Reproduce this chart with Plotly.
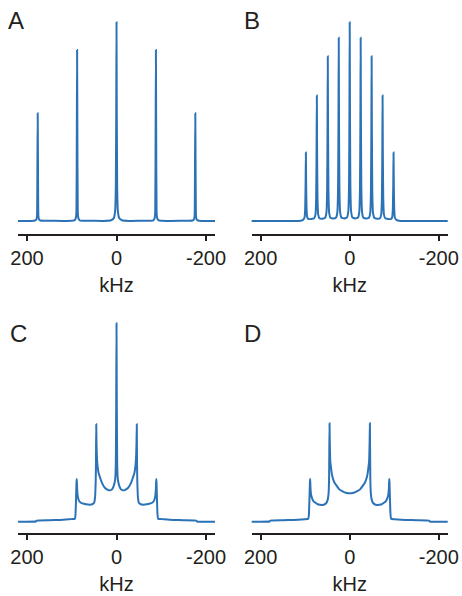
import plotly.graph_objects as go

# ---------------- data ----------------
# Panel A: five sharp lines at 0, ±88, ±176 kHz
A_khz = [222, 190, 182, 179, 177.5, 176.6, 176, 175.4, 174.5, 173, 170, 160, 120, 100, 94, 91,
         89.5, 88.6, 88, 87.4, 86.5, 85, 82, 70, 30, 12, 6, 3, 1.5, 0.6, 0,
         -0.6, -1.5, -3, -6, -12, -30, -70, -82, -85, -86.5, -87.4, -88, -88.6, -89.5,
         -91, -94, -100, -120, -160, -170, -173, -174.5, -175.4, -176, -176.6, -177.5,
         -179, -182, -190, -222]
A_int = [0.002, 0.003, 0.005, 0.010, 0.030, 0.300, 0.543, 0.300, 0.030, 0.010, 0.005, 0.004, 0.003, 0.004, 0.006, 0.016,
         0.050, 0.470, 0.861, 0.470, 0.050, 0.016, 0.006, 0.004, 0.003, 0.006, 0.017, 0.055, 0.180, 0.550, 1.000,
         0.550, 0.180, 0.055, 0.017, 0.006, 0.003, 0.004, 0.006, 0.016, 0.050, 0.470, 0.861, 0.470, 0.050,
         0.016, 0.006, 0.004, 0.003, 0.004, 0.005, 0.010, 0.030, 0.300, 0.543, 0.300, 0.030,
         0.010, 0.005, 0.003, 0.002]

# Panel B: nine lines spaced ~24.6 kHz
B_khz = [222, 160, 115, 108, 104.4, 101.4, 99.9, 99.0, 98.4, 97.8, 96.9, 95.4, 92.4, 86.1,
         79.8, 76.8, 75.3, 74.4, 73.8, 73.2, 72.3, 70.8, 67.8, 61.5,
         55.2, 52.2, 50.7, 49.8, 49.2, 48.6, 47.7, 46.2, 43.2, 36.9,
         30.6, 27.6, 26.1, 25.2, 24.6, 24.0, 23.1, 21.6, 18.6, 12.3,
         6.0, 3.0, 1.5, 0.6, 0.0, -0.6, -1.5, -3.0, -6.0,
         -12.3, -18.6, -21.6, -23.1, -24.0, -24.6, -25.2, -26.1, -27.6, -30.6,
         -36.9, -43.2, -46.2, -47.7, -48.6, -49.2, -49.8, -50.7, -52.2, -55.2,
         -61.5, -67.8, -70.8, -72.3, -73.2, -73.8, -74.4, -75.3, -76.8, -79.8,
         -86.1, -92.4, -95.4, -96.9, -97.8, -98.4, -99.0, -99.9, -101.4, -104.4, -108, -115, -160, -222]
B_int = [0.002, 0.002, 0.003, 0.005, 0.009, 0.020, 0.065, 0.190, 0.346, 0.190, 0.065, 0.022, 0.012, 0.013,
         0.016, 0.036, 0.118, 0.350, 0.633, 0.350, 0.118, 0.036, 0.016, 0.014,
         0.019, 0.046, 0.152, 0.457, 0.830, 0.457, 0.152, 0.046, 0.019, 0.015,
         0.020, 0.050, 0.168, 0.507, 0.922, 0.507, 0.168, 0.050, 0.020, 0.015,
         0.021, 0.054, 0.182, 0.550, 1.000, 0.550, 0.182, 0.054, 0.021,
         0.015, 0.020, 0.050, 0.168, 0.507, 0.922, 0.507, 0.168, 0.050, 0.020,
         0.015, 0.019, 0.046, 0.152, 0.457, 0.830, 0.457, 0.152, 0.046, 0.019,
         0.014, 0.016, 0.036, 0.118, 0.350, 0.633, 0.350, 0.118, 0.036, 0.016,
         0.013, 0.012, 0.022, 0.065, 0.190, 0.346, 0.190, 0.065, 0.020, 0.009, 0.005, 0.003, 0.002, 0.002]

# Panel C: powder pattern with central line
C_khz = [222, 180, 178.5, 150, 126, 100, 93, 91.5, 90.3, 89.3, 88.7, 88, 87, 85, 82, 76, 68, 60, 54, 50,
         48, 46.5, 45.8, 45.3, 44.7, 44, 42.5, 40, 36.6, 32, 25.5, 19, 14, 10, 7, 4, 2.5, 1.5, 0.7, 0,
         -0.7, -1.5, -2.5, -4, -7, -10, -14, -19, -25.5, -32, -36.6, -40, -42.5, -44, -44.7, -45.3,
         -45.8, -46.5, -48, -50, -54, -60, -68, -76, -82, -85, -87, -88, -88.7, -89.3, -90.3, -91.5,
         -93, -100, -126, -150, -178.5, -180, -222]
C_int = [0.000, 0.001, 0.005, 0.007, 0.009, 0.013, 0.015, 0.040, 0.120, 0.200, 0.215, 0.170, 0.135, 0.113, 0.100, 0.092, 0.088, 0.086, 0.088, 0.095,
         0.120, 0.200, 0.300, 0.491, 0.400, 0.340, 0.285, 0.245, 0.222, 0.193, 0.170, 0.160, 0.158, 0.163, 0.175, 0.200, 0.225, 0.300, 0.580, 1.000,
         0.580, 0.300, 0.225, 0.200, 0.175, 0.163, 0.158, 0.160, 0.170, 0.193, 0.222, 0.245, 0.285, 0.340, 0.400, 0.491,
         0.300, 0.200, 0.120, 0.095, 0.088, 0.086, 0.088, 0.092, 0.100, 0.113, 0.135, 0.170, 0.215, 0.200, 0.120, 0.040,
         0.015, 0.013, 0.009, 0.007, 0.005, 0.001, 0.000]

# Panel D: powder pattern without central line
D_khz = [222, 180, 178.5, 150, 126, 100, 93, 91.5, 90.3, 89.3, 88.7, 88, 86.6, 81.5, 72, 61, 53, 49.5,
         47.5, 46.3, 45.3, 44.7, 43.5, 41.5, 39.7, 34.6, 23.4, 15, 8.5, 0,
         -8.5, -15, -23.4, -34.6, -39.7, -41.5, -43.5, -44.7, -45.3, -46.3, -47.5,
         -49.5, -53, -61, -72, -81.5, -86.6, -88, -88.7, -89.3, -90.3, -91.5, -93, -100, -126, -150, -178.5, -180, -222]
D_int = [0.000, 0.001, 0.005, 0.007, 0.009, 0.012, 0.015, 0.040, 0.120, 0.200, 0.215, 0.170, 0.135, 0.104, 0.088, 0.084, 0.093, 0.110,
         0.140, 0.220, 0.496, 0.400, 0.302, 0.265, 0.235, 0.199, 0.163, 0.152, 0.146, 0.143,
         0.146, 0.152, 0.163, 0.199, 0.235, 0.265, 0.302, 0.400, 0.496, 0.220, 0.140,
         0.110, 0.093, 0.084, 0.088, 0.104, 0.135, 0.170, 0.215, 0.200, 0.120, 0.040, 0.015, 0.012, 0.009, 0.007, 0.005, 0.001, 0.000]

panel_labels = ["A", "B", "C", "D"]
tick_vals = [200, 0, -200]
tick_text = ["200", "0", "-200"]
x_title = "kHz"

# ---------------- figure ----------------
W, H = 462, 596
LINE = "#2b72b6"
TXT = "#231f20"
FONT = "Liberation Sans, Arial, sans-serif"

fig = go.Figure()
series = [(A_khz, A_int), (B_khz, B_int), (C_khz, C_int), (D_khz, D_int)]
for i, (xs, ys) in enumerate(series):
    fig.add_trace(go.Scatter(x=xs, y=ys, mode="lines",
                             line=dict(color=LINE, width=2, shape="spline", smoothing=0.3),
                             xaxis=f"x{i+1}" if i else "x", yaxis=f"y{i+1}" if i else "y",
                             showlegend=False, hoverinfo="skip"))

xdom_left = [18 / W, 215 / W]
xdom_right = [251.7 / W, 447.7 / W]
ydom_top = [1 - 234.3 / H, 1 - 18 / H]
ydom_bot = [1 - 533.3 / H, 1 - 319.3 / H]
yr_top = [-0.0643, 1.0216]
yr_bot = [-0.0585, 1.0202]

def xax(dom, anchor):
    return dict(domain=dom, anchor=anchor, range=[220, -220], showgrid=False, zeroline=False,
                automargin=False,
                showline=True, linecolor=TXT, linewidth=2, ticks="outside", ticklen=5,
                tickwidth=2, tickcolor=TXT, tickvals=tick_vals, ticktext=tick_text,
                tickfont=dict(family=FONT, size=20, color=TXT),
                title=dict(text=x_title, font=dict(family=FONT, size=20, color=TXT), standoff=10))

def yax(dom, anchor, rng):
    return dict(domain=dom, anchor=anchor, range=rng, visible=False, showgrid=False,
                zeroline=False, automargin=False)

fig.update_layout(
    width=W, height=H, margin=dict(l=0, r=0, t=0, b=0, autoexpand=False),
    paper_bgcolor="white", plot_bgcolor="white",
    xaxis=xax(xdom_left, "y"), yaxis=yax(ydom_top, "x", yr_top),
    xaxis2=xax(xdom_right, "y2"), yaxis2=yax(ydom_top, "x2", yr_top),
    xaxis3=xax(xdom_left, "y3"), yaxis3=yax(ydom_bot, "x3", yr_bot),
    xaxis4=xax(xdom_right, "y4"), yaxis4=yax(ydom_bot, "x4", yr_bot),
)

label_pos = [(6, 20.5), (242, 20.5), (8, 333.4), (242, 333.4)]
for lab, (px, py) in zip(panel_labels, label_pos):
    fig.add_annotation(text=lab, xref="paper", yref="paper", x=px / W, y=1 - py / H,
                       xanchor="left", yanchor="middle", showarrow=False,
                       font=dict(family=FONT, size=24, color=TXT))

fig.write_html("out.html")
